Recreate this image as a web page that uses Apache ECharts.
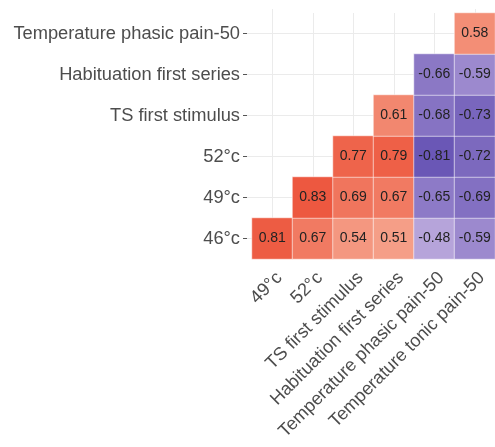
<!DOCTYPE html>
<html>
<head>
<meta charset="utf-8">
<script src="https://cdn.jsdelivr.net/npm/echarts@6/dist/echarts.min.js"></script>
<style>
  html, body { margin: 0; padding: 0; background: #ffffff; }
  #chart { width: 495px; height: 447px; }
</style>
</head>
<body>
<div id="chart"></div>
<script>
// Column variables (left to right)
const xCategories = ['49°c', '52°c', 'TS first stimulus', 'Habituation first series',
                     'Temperature phasic pain-50', 'Temperature tonic pain-50'];
// Row variables (bottom to top)
const yCategories = ['46°c', '49°c', '52°c', 'TS first stimulus',
                     'Habituation first series', 'Temperature phasic pain-50'];

// Correlation coefficients, one array per row (null = not shown, lower triangle)
const row46 = [0.81, 0.67, 0.54, 0.51, -0.48, -0.59];
const row49 = [null, 0.83, 0.69, 0.67, -0.65, -0.69];
const row52 = [null, null, 0.77, 0.79, -0.81, -0.72];
const rowTS = [null, null, null, 0.61, -0.68, -0.73];
const rowHab = [null, null, null, null, -0.66, -0.59];
const rowPhasic = [null, null, null, null, null, 0.58];

const rows = [row46, row49, row52, rowTS, rowHab, rowPhasic];

const cells = [];
rows.forEach((row, yi) => {
  row.forEach((v, xi) => {
    if (v !== null) cells.push([xi, yi, v]);
  });
});

const chart = echarts.init(document.getElementById('chart'), null, { renderer: 'canvas' });

const labelFont = 'Liberation Sans, Arial, sans-serif';
const gridColor = '#ebebeb';

chart.setOption({
  backgroundColor: '#ffffff',
  animation: false,
  grid: { left: 252, top: 13, width: 246, height: 246, containLabel: false },
  xAxis: [{
    type: 'category',
    data: xCategories,
    axisLine: { show: false },
    axisTick: { show: false },
    // grid lines run through the middle of each column
    splitLine: { show: true, alignWithLabel: true, lineStyle: { color: gridColor, width: 1 } },
    splitArea: { show: false },
    axisLabel: {
      rotate: 45,
      interval: 0,
      margin: 9,
      lineHeight: 20,
      // blank first line nudges each slanted label down-right of its column
      formatter: v => '\n' + v,
      color: '#4d4d4d',
      fontSize: 18.2,
      fontFamily: labelFont
    }
  }, {
    // short continuation of the column grid lines above the panel
    type: 'category',
    position: 'top',
    data: xCategories,
    axisLine: { show: false },
    axisTick: { show: true, alignWithLabel: true, length: 4, lineStyle: { color: gridColor } },
    axisLabel: { show: false },
    splitLine: { show: false }
  }],
  yAxis: [{
    type: 'category',
    data: yCategories,
    axisLine: { show: false },
    // light stub continuing the row grid lines to the left edge of the panel
    axisTick: { show: true, alignWithLabel: true, length: 5, lineStyle: { color: gridColor } },
    splitLine: { show: true, alignWithLabel: true, lineStyle: { color: gridColor, width: 1 } },
    axisLabel: {
      interval: 0,
      margin: 12,
      color: '#4d4d4d',
      fontSize: 18.3,
      fontFamily: labelFont
    }
  }, {
    // dark tick marks just outside the panel
    type: 'category',
    position: 'left',
    offset: 5,
    data: yCategories,
    axisLine: { show: false },
    axisTick: { show: true, alignWithLabel: true, length: 4, lineStyle: { color: '#555555' } },
    axisLabel: { show: false },
    splitLine: { show: false }
  }],
  visualMap: {
    show: false,
    type: 'continuous',
    min: -1,
    max: 1,
    dimension: 2,
    seriesIndex: 0,
    inRange: {
      color: ['#4b36a6', '#7461bb', '#b3a0d8', '#dcd3ee', '#ffffff',
              '#fbd2c6', '#f5a089', '#ef684f', '#e8371f']
    }
  },
  series: [{
    type: 'heatmap',
    xAxisIndex: 0,
    yAxisIndex: 0,
    data: cells,
    itemStyle: { borderColor: 'rgba(255,255,255,0.55)', borderWidth: 1 },
    label: {
      show: true,
      color: '#222222',
      fontSize: 14,
      fontFamily: labelFont,
      formatter: p => p.value[2].toFixed(2)
    },
    emphasis: { disabled: true }
  }]
});
</script>
</body>
</html>
